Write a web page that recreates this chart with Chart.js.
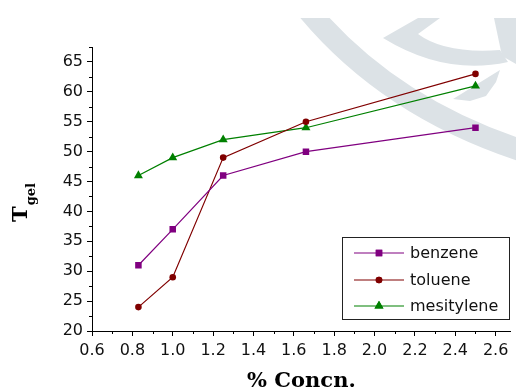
<!DOCTYPE html>
<html>
<head>
<meta charset="utf-8">
<script src="https://cdn.jsdelivr.net/npm/chart.js@4"></script>
<style>
  html, body { margin: 0; padding: 0; background: #fff; }
  #wrap { width: 516px; height: 392px; }
</style>
</head>
<body>
<div id="wrap"><canvas id="gelChart" width="516" height="392"></canvas></div>
<script>
// data
const concn = [0.83, 1.0, 1.25, 1.66, 2.5];
const benzene = [31, 37, 46, 50, 54];
const toluene = [24, 29, 49, 55, 63];
const mesitylene = [46, 49, 52, 54, 61];

// axes
const xTicks = [0.6, 0.8, 1.0, 1.2, 1.4, 1.6, 1.8, 2.0, 2.2, 2.4, 2.6];
const xMinor = [0.7, 0.9, 1.1, 1.3, 1.5, 1.7, 1.9, 2.1, 2.3, 2.5];
const yTicks = [20, 25, 30, 35, 40, 45, 50, 55, 60, 65];
const yMinor = [22.5, 27.5, 32.5, 37.5, 42.5, 47.5, 52.5, 57.5, 62.5, 67.5];

const toPoints = ys => concn.map((x, i) => ({ x: x, y: ys[i] }));

// faint logo watermark behind the plot
const watermark = {
    id: 'watermark',
    beforeDraw(chart) {
        const ctx = chart.ctx;
        ctx.save();
        ctx.beginPath();
        ctx.rect(0, 18, 516, 374);
        ctx.clip();
        ctx.strokeStyle = '#dce2e6';
        ctx.fillStyle = '#dce2e6';
        // long band
        ctx.lineWidth = 22;
        ctx.beginPath();
        ctx.moveTo(308, 10);
        ctx.quadraticCurveTo(388, 106, 520, 150);
        ctx.stroke();
        // crescent
        ctx.beginPath();
        ctx.moveTo(383, 38);
        ctx.quadraticCurveTo(445, 76, 508, 62);
        ctx.lineTo(500, 50);
        ctx.quadraticCurveTo(445, 54, 418, 34);
        ctx.lineTo(440, 18);
        ctx.lineTo(418, 18);
        ctx.closePath();
        ctx.fill();
        // corner piece
        ctx.beginPath();
        ctx.moveTo(494, 18);
        ctx.lineTo(516, 18);
        ctx.lineTo(516, 64);
        ctx.lineTo(502, 56);
        ctx.closePath();
        ctx.fill();
        // arrow piece
        ctx.beginPath();
        ctx.moveTo(453, 99);
        ctx.lineTo(500, 70);
        ctx.lineTo(496, 82);
        ctx.lineTo(486, 96);
        ctx.lineTo(470, 101);
        ctx.closePath();
        ctx.fill();
        ctx.restore();
    }
};

// minor ticks, y title with subscript, boxed legend
const extras = {
    id: 'extras',
    afterDraw(chart) {
        const ctx = chart.ctx;
        const xs = chart.scales.x, ys = chart.scales.y;
        const area = chart.chartArea;
        ctx.save();
        ctx.strokeStyle = '#000';
        ctx.lineWidth = 1;
        ctx.beginPath();
        xMinor.forEach(v => {
            const px = Math.round(xs.getPixelForValue(v)) + 0.5;
            ctx.moveTo(px, area.bottom);
            ctx.lineTo(px, area.bottom + 3);
        });
        yMinor.forEach(v => {
            const py = Math.round(ys.getPixelForValue(v)) + 0.5;
            ctx.moveTo(area.left, py);
            ctx.lineTo(area.left - 3, py);
        });
        ctx.stroke();

        // T_gel
        ctx.fillStyle = '#000';
        ctx.translate(27, 222);
        ctx.rotate(-Math.PI / 2);
        ctx.textBaseline = 'alphabetic';
        ctx.textAlign = 'left';
        ctx.font = 'bold 21px "DejaVu Serif"';
        ctx.fillText('T', 0, 0);
        const tw = ctx.measureText('T').width;
        ctx.font = 'bold 13px "DejaVu Serif"';
        ctx.fillText('gel', tw + 1, 8);
        ctx.setTransform(1, 0, 0, 1, 0, 0);

        // legend box
        const box = { l: 342.5, t: 237.5, r: 509.5, b: 319.5 };
        ctx.strokeStyle = '#222';
        ctx.strokeRect(box.l, box.t, box.r - box.l, box.b - box.t);
        const rows = [253, 280, 306];
        ctx.font = '16px "DejaVu Sans"';
        ctx.textBaseline = 'middle';
        chart.data.datasets.forEach((ds, i) => {
            const y = rows[i];
            ctx.strokeStyle = ds.borderColor;
            ctx.lineWidth = ds.borderWidth;
            ctx.beginPath();
            ctx.moveTo(354, y);
            ctx.lineTo(404, y);
            ctx.stroke();
            ctx.fillStyle = ds.backgroundColor;
            Chart.helpers.drawPoint(ctx, {
                pointStyle: ds.pointStyle,
                radius: ds.pointRadius,
                rotation: 0,
                borderWidth: 0
            }, 379, y);
            ctx.fill();
            ctx.fillStyle = '#111';
            ctx.fillText(ds.label, 410, y + 1);
        });
        ctx.restore();
    }
};

const tickFont = { family: '"DejaVu Sans"', size: 16 };

new Chart(document.getElementById('gelChart'), {
    type: 'line',
    data: {
        datasets: [
            {
                label: 'benzene',
                data: toPoints(benzene),
                borderColor: '#800080',
                backgroundColor: '#800080',
                borderWidth: 1.2,
                pointStyle: 'rect',
                pointRadius: 4.6,
                pointBorderWidth: 0
            },
            {
                label: 'toluene',
                data: toPoints(toluene),
                borderColor: '#800000',
                backgroundColor: '#800000',
                borderWidth: 1.2,
                pointStyle: 'circle',
                pointRadius: 3.3,
                pointBorderWidth: 0
            },
            {
                label: 'mesitylene',
                data: toPoints(mesitylene),
                borderColor: '#008000',
                backgroundColor: '#008000',
                borderWidth: 1.2,
                pointStyle: 'triangle',
                pointRadius: 5.2,
                pointBorderWidth: 0
            }
        ]
    },
    options: {
        responsive: false,
        animation: false,
        events: [],
        layout: { padding: { top: 47, right: 4, left: 0, bottom: 0 } },
        plugins: {
            legend: { display: false },
            tooltip: { enabled: false }
        },
        scales: {
            x: {
                type: 'linear',
                min: 0.6,
                max: 2.675,
                afterBuildTicks: s => { s.ticks = xTicks.map(v => ({ value: v })); },
                afterFit: s => { s.height = 61; },
                grid: { display: true, drawOnChartArea: false, drawTicks: true, tickLength: 5, color: '#000' },
                border: { display: true, color: '#000', width: 1 },
                ticks: {
                    color: '#111',
                    font: tickFont,
                    padding: 5,
                    maxRotation: 0,
                    autoSkip: false,
                    callback: v => v.toFixed(1)
                },
                title: {
                    display: true,
                    text: '% Concn.',
                    color: '#000',
                    font: { family: '"DejaVu Serif"', weight: 'bold', size: 21, lineHeight: 1 },
                    padding: { top: 0, bottom: 0 }
                }
            },
            y: {
                min: 20,
                max: 67.5,
                afterBuildTicks: s => { s.ticks = yTicks.map(v => ({ value: v })); },
                afterFit: s => { s.width = 92; },
                grid: { display: true, drawOnChartArea: false, drawTicks: true, tickLength: 5, color: '#000' },
                border: { display: true, color: '#000', width: 1 },
                ticks: {
                    color: '#111',
                    font: tickFont,
                    padding: 4,
                    autoSkip: false
                }
            }
        }
    },
    plugins: [watermark, extras]
});
</script>
</body>
</html>
